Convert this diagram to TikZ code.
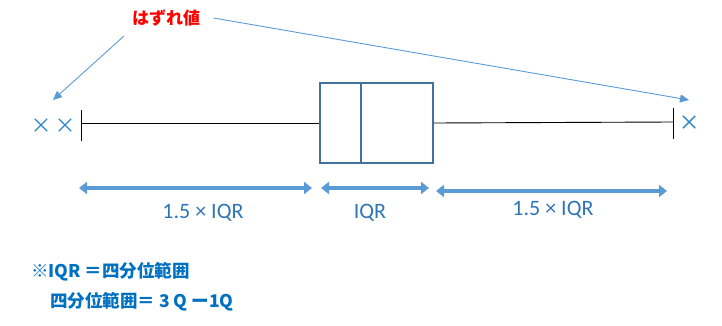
\documentclass[tikz,border=0pt]{standalone}
\usepackage{fontspec}
\setmainfont{Carlito}
\newfontfamily\jpfont{Noto Sans CJK JP}
\usetikzlibrary{arrows.meta,positioning,shapes.misc}

\definecolor{callblue}{HTML}{5B9BD5}
\definecolor{boxblue}{HTML}{41719C}
\definecolor{crossblue}{HTML}{2E86C8}
\definecolor{txtblue}{HTML}{2E75B6}
\definecolor{noteblue}{HTML}{0070C0}

\tikzset{
  boxst/.style={draw=boxblue, line width=1.8pt, inner sep=0pt},
  whisk/.style={black, line width=0.9pt},
  outl/.style={cross out, draw=crossblue, line width=1.4pt, minimum size=11pt, inner sep=0pt},
  callout/.style={callblue, line width=0.9pt, -{Triangle[length=9pt,width=8pt]}},
  span/.style={callblue, line width=3.5pt, {Triangle[length=8pt,width=12pt]}-{Triangle[length=8pt,width=12pt]}, shorten <=1pt, shorten >=1pt},
  spanlbl/.style={text=txtblue, font=\fontsize{22}{26}\selectfont},
  note/.style={text=noteblue, font=\jpfont\bfseries\fontsize{17.5}{20}\selectfont, anchor=west, inner sep=0pt}
}

\begin{document}
\begin{tikzpicture}[x=1pt,y=-1pt]
  \useasboundingbox (0,0) rectangle (722,326);

  % 箱
  \node[boxst, minimum width=113pt, minimum height=80pt] (box) at (376.5,123) {};
  \coordinate (medt) at (361,83);
  \coordinate (medb) at (361,163);
  \draw[boxst] (medt) -- (medb);

  % ひげ
  \coordinate (wl) at (81,123);
  \coordinate (wr) at (673,122);
  \coordinate (wlt) at (81,110);
  \coordinate (wlb) at (81,141);
  \coordinate (wrt) at (673,108);
  \coordinate (wrb) at (673,139);
  \draw[whisk] (wl) -- (box.west);
  \draw[whisk] (box.east) -- (wr);
  \draw[whisk] (wlt) -- (wlb);
  \draw[whisk] (wrt) -- (wrb);

  % はずれ値
  \node[outl] (o1) at (41,125) {};
  \node[outl] (o2) at (65,125) {};
  \node[outl] (o3) at (689,122) {};

  \node[text=red, font=\jpfont\bfseries\fontsize{17}{19}\selectfont] (lbl) at (166,18) {はずれ値};
  \coordinate (tipl) at (53,100);
  \coordinate (tipr) at (689,100);
  \draw[callout] ([xshift=-42pt,yshift=-18pt]lbl.center) -- (tipl);
  \draw[callout] ([xshift=10pt]lbl.east) -- (tipr);

  % 範囲
  \coordinate (s1) at (78,188);
  \coordinate (s2) at (313,188);
  \coordinate (s3) at (320,188);
  \coordinate (s4) at (430,188);
  \coordinate (s5) at (435,191);
  \coordinate (s6) at (668,191);
  \draw[span] (s1) -- (s2);
  \draw[span] (s3) -- (s4);
  \draw[span] (s5) -- (s6);

  \node[spanlbl] (l1) at (203,213) {1.5 × IQR};
  \node[spanlbl] (l2) at (370,213) {IQR};
  \node[spanlbl] (l3) at (553,210) {1.5 × IQR};

  % 注
  \node[note] (n1) at (31,272) {※IQR ＝四分位範囲};
  \node[note] (n2) at (50,302) {四分位範囲＝ 3 Q ー1Q};
\end{tikzpicture}
\end{document}
